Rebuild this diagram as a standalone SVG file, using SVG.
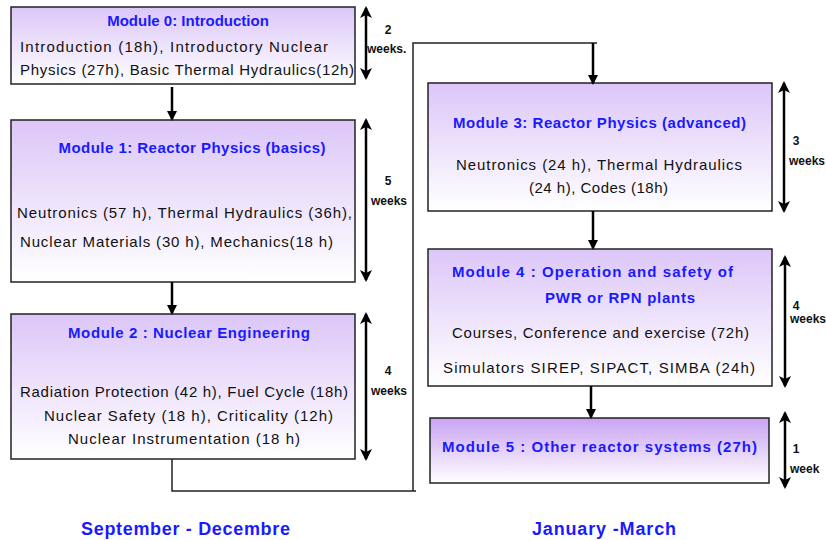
<svg xmlns="http://www.w3.org/2000/svg" width="826" height="540" viewBox="0 0 826 540">
<defs>
<linearGradient id="g" x1="0" y1="0" x2="0" y2="1"><stop offset="0" stop-color="#dcc6f8"/><stop offset="1" stop-color="#ffffff"/></linearGradient>
<linearGradient id="g5" x1="0" y1="0" x2="0" y2="1"><stop offset="0" stop-color="#c9a2f2"/><stop offset="1" stop-color="#ffffff"/></linearGradient>
<marker id="ah" markerWidth="10" markerHeight="10" refX="8" refY="5" orient="auto-start-reverse" markerUnits="userSpaceOnUse" viewBox="0 0 10 10"><path d="M0,0 L10,5 L0,10 z" fill="#000"/></marker>
<marker id="dh" markerWidth="12" markerHeight="12" refX="10" refY="6" orient="auto-start-reverse" markerUnits="userSpaceOnUse" viewBox="0 0 12 12"><path d="M0,0 L12,6 L0,12 L3,6 z" fill="#000"/></marker>
</defs>
<style>
.box{stroke:#222;stroke-width:1.5}
.t{font-family:"Liberation Sans",Arial,sans-serif;font-size:15px;font-weight:bold;fill:#1a1aff}
.b{font-family:"Liberation Sans",Arial,sans-serif;font-size:15px;fill:#111}
.w{font-family:"Liberation Sans",Arial,sans-serif;font-size:12px;font-weight:bold;fill:#111}
.d{fill:none;stroke:#000;stroke-width:2.5;marker-start:url(#dh);marker-end:url(#dh)}
.a{fill:none;stroke:#000;stroke-width:2.5;marker-end:url(#ah)}
.l{fill:none;stroke:#222;stroke-width:1.5}
.p{font-family:"Liberation Sans",Arial,sans-serif;font-size:18px;font-weight:bold;fill:#1a1aff}
</style>
<g id="m0">
<rect class="box" x="11" y="7" width="344" height="77" fill="url(#g)"/>
<text class="t" x="188" y="26" text-anchor="middle">Module 0: Introduction</text>
<text class="b" x="20" y="52" textLength="308">Introduction (18h), Introductory Nuclear</text>
<text class="b" x="20" y="75" textLength="334">Physics (27h), Basic Thermal Hydraulics(12h)</text>
</g>
<g id="m1">
<rect class="box" x="11" y="120" width="344" height="162" fill="url(#g)"/>
<text class="t" x="192" y="153" text-anchor="middle" textLength="267">Module 1: Reactor Physics (basics)</text>
<text class="b" x="17" y="218" textLength="335">Neutronics (57 h), Thermal Hydraulics (36h),</text>
<text class="b" x="20" y="247" textLength="313">Nuclear Materials (30 h), Mechanics(18 h)</text>
</g>
<g id="m2">
<rect class="box" x="11" y="314" width="344" height="145" fill="url(#g)"/>
<text class="t" x="68" y="338" textLength="242">Module 2 : Nuclear Engineering</text>
<text class="b" x="20" y="397" textLength="328">Radiation Protection (42 h), Fuel Cycle (18h)</text>
<text class="b" x="44" y="421" textLength="289">Nuclear Safety (18 h), Criticality (12h)</text>
<text class="b" x="68" y="444" textLength="232">Nuclear Instrumentation (18 h)</text>
</g>
<g id="m3">
<rect class="box" x="428" y="83" width="344" height="128" fill="url(#g)"/>
<text class="t" x="453" y="128" textLength="293">Module 3: Reactor Physics (advanced)</text>
<text class="b" x="456" y="170" textLength="286">Neutronics (24 h), Thermal Hydraulics</text>
<text class="b" x="529" y="193" textLength="139">(24 h), Codes (18h)</text>
</g>
<g id="m4">
<rect class="box" x="428" y="249" width="344" height="137" fill="url(#g)"/>
<text class="t" x="452" y="277" textLength="281">Module 4 : Operation and safety of</text>
<text class="t" x="545" y="303" textLength="150">PWR or RPN plants</text>
<text class="b" x="452" y="338" textLength="297">Courses, Conference and exercise (72h)</text>
<text class="b" x="443" y="373" textLength="312">Simulators SIREP, SIPACT, SIMBA (24h)</text>
</g>
<g id="m5">
<rect class="box" x="430" y="418" width="339" height="65" fill="url(#g5)"/>
<text class="t" x="442" y="452" textLength="315">Module 5 : Other reactor systems (27h)</text>
</g>
<g id="durations">
<line class="d" x1="366" y1="8" x2="366" y2="78"/>
<text class="w" x="388" y="34" text-anchor="middle">2</text>
<text class="w" x="367" y="53">weeks.</text>
<line class="d" x1="366" y1="120" x2="366" y2="280"/>
<text class="w" x="388" y="185" text-anchor="middle">5</text>
<text class="w" x="371" y="205">weeks</text>
<line class="d" x1="366" y1="314" x2="366" y2="459"/>
<text class="w" x="388" y="375" text-anchor="middle">4</text>
<text class="w" x="371" y="395">weeks</text>
<line class="d" x1="784" y1="83" x2="784" y2="211"/>
<text class="w" x="796" y="145" text-anchor="middle">3</text>
<text class="w" x="789" y="165">weeks</text>
<line class="d" x1="785" y1="257" x2="785" y2="386"/>
<text class="w" x="796" y="310" text-anchor="middle">4</text>
<text class="w" x="790" y="323">weeks</text>
<line class="d" x1="785" y1="413" x2="785" y2="487"/>
<text class="w" x="796" y="453" text-anchor="middle">1</text>
<text class="w" x="790" y="473">week</text>
</g>
<g id="connectors">
<line class="a" x1="172" y1="87" x2="172" y2="119"/>
<line class="a" x1="172" y1="282" x2="172" y2="313"/>
<path class="l" d="M172,459 V491 H416 M413,491 V43 H597"/>
<line class="a" x1="593" y1="43" x2="593" y2="83"/>
<line class="a" x1="593" y1="211" x2="593" y2="248"/>
<line class="a" x1="591" y1="386" x2="591" y2="417"/>
</g>
<g id="periods">
<text class="p" x="81" y="535" textLength="209">September - Decembre</text>
<text class="p" x="532" y="535" textLength="144">January -March</text>
</g>
</svg>
